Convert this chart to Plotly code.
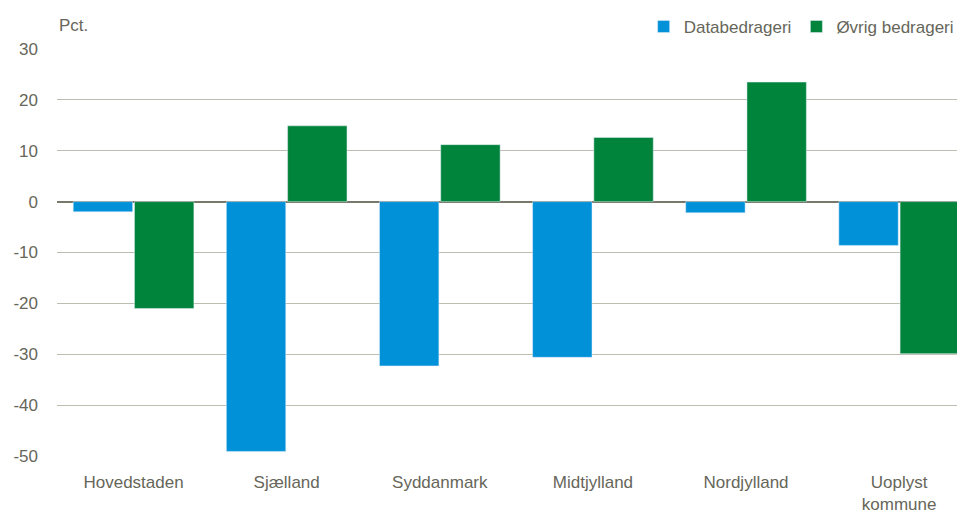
import plotly.graph_objects as go

categories = ["Hovedstaden", "Sjælland", "Syddanmark", "Midtjylland", "Nordjylland", "Uoplyst<br>kommune"]
databedrageri = [-2.0, -49.1, -32.3, -30.6, -2.2, -8.6]
oevrig = [-21.0, 14.9, 11.2, 12.6, 23.5, -29.9]
y_ticks = [-50, -40, -30, -20, -10, 0, 10, 20, 30]
y_tick_labels = ["-50", "-40", "-30", "-20", "-10", "0", "10", "20", "30"]

FONT = "Liberation Sans, Arial, sans-serif"
TXT = "#66665a"
GRID = "#bdbdb0"
FS = 17

fig = go.Figure()
fig.add_trace(go.Bar(x=categories, y=databedrageri, name="Databedrageri", marker_color="#0091d9"))
fig.add_trace(go.Bar(x=categories, y=oevrig, name="Øvrig bedrageri", marker_color="#00843b"))

fig.update_layout(
    width=957, height=507,
    margin=dict(l=49, r=0, t=41, b=59, autoexpand=False),
    plot_bgcolor="white", paper_bgcolor="white",
    font=dict(family=FONT, size=FS, color=TXT),
    barmode="group", bargap=0.2, bargroupgap=0.03,
    showlegend=True,
    legend=dict(orientation="h", x=0.993, xanchor="right", y=1.01, yanchor="bottom",
                font=dict(size=FS, color=TXT), itemwidth=30, traceorder="normal",
                bgcolor="rgba(0,0,0,0)"),
    xaxis=dict(range=[-0.5, 5.43], showgrid=False, zeroline=False, showline=False, ticks="",
               ticklabelstandoff=14, tickfont=dict(size=FS, color=TXT)),
    yaxis=dict(range=[-50, 30], tickvals=y_ticks, ticktext=y_tick_labels,
               showgrid=True, gridcolor=GRID, gridwidth=1.3,
               zeroline=True, zerolinecolor="#78786b", zerolinewidth=2,
               showline=False, ticks="", ticklabelstandoff=18,
               tickfont=dict(size=FS, color=TXT)),
)
fig.add_annotation(text="Pct.", xref="paper", yref="paper", x=0, y=1.0, xanchor="left",
                   yanchor="bottom", yshift=12, showarrow=False, font=dict(size=FS, color=TXT))
fig.write_html("out.html")
